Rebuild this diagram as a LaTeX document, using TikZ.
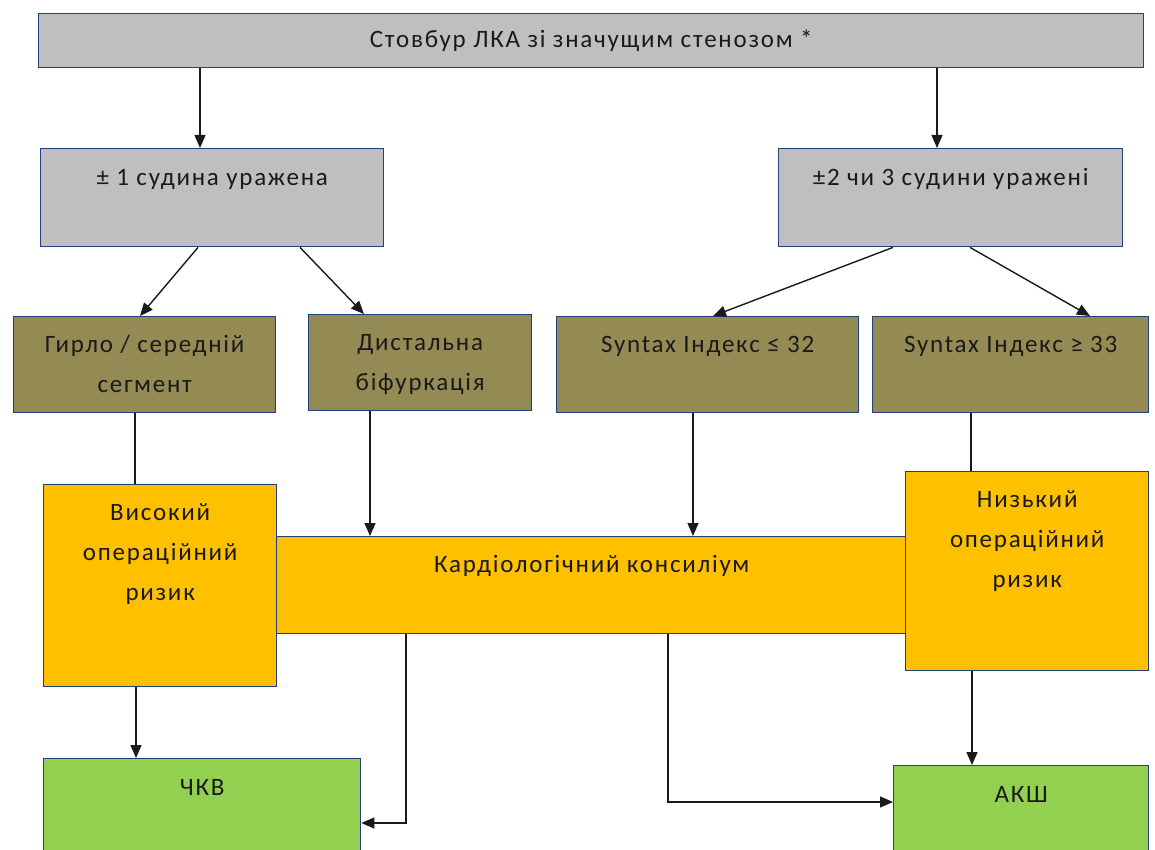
\documentclass[tikz,border=0pt]{standalone}
\usepackage{fontspec}
\setmainfont{Carlito}
\usetikzlibrary{arrows.meta}
\definecolor{boxgrey}{HTML}{BFBFBF}
\definecolor{olive}{HTML}{948A54}
\definecolor{amber}{HTML}{FFC000}
\definecolor{leaf}{HTML}{92D050}
\definecolor{edge}{HTML}{24407A}
\definecolor{ink}{HTML}{1A1A1A}
\tikzset{
  box/.style={draw=edge, line width=1.4pt, anchor=north west, align=center,
    inner xsep=4pt, inner ysep=0pt, text height=37pt, text=ink,
    font=\fontsize{25}{40}\selectfont\addfontfeatures{LetterSpace=7}},
  flow/.style={draw=ink, line width=1.4pt, -{Triangle[length=13pt,width=11pt]}}
}
\begin{document}
\begin{tikzpicture}[x=1pt, y=-1pt]
  \useasboundingbox (0,0) rectangle (1155,850);
  \draw
    (38,13) node[box, fill=boxgrey, minimum width=1105pt, text height=34pt, text depth=20pt] (top){Стовбур ЛКА зі значущим стенозом *}
    (40,148) node[box, fill=boxgrey, minimum width=343pt, text depth=61pt] (one){± 1 судина уражена}
    (778,148) node[box, fill=boxgrey, minimum width=344pt, text depth=61pt] (two){±2 чи 3 судини уражені}
    (13,316) node[box, fill=olive, minimum width=262pt, text height=76pt, text depth=20pt] (ostium){Гирло / середній\\сегмент}
    (308,314) node[box, fill=olive, minimum width=223pt, text height=76pt, text depth=20pt] (distal){Дистальна\\біфуркація}
    (556,316) node[box, fill=olive, minimum width=302pt, text height=36pt, text depth=60pt] (synlo){Syntax Індекс ≤ 32}
    (872,316) node[box, fill=olive, minimum width=276pt, text height=36pt, text depth=60pt] (synhi){Syntax Індекс ≥ 33}
    (276,536) node[box, fill=amber, minimum width=630pt, text height=36pt, text depth=61pt] (council){Кардіологічний консиліум}
    (43,484) node[box, fill=amber, minimum width=233pt, text height=116pt, text depth=86pt] (high){Високий\\операційний\\ризик}
    (905,471) node[box, fill=amber, minimum width=243pt, text height=116pt, text depth=83pt] (low){Низький\\операційний\\ризик}
    (43,758) node[box, fill=leaf, minimum width=317pt, text depth=80pt] (pci){ЧКВ}
    (893,765) node[box, fill=leaf, minimum width=255pt, text depth=80pt] (cabg){АКШ};
  \begin{scope}[flow]
    \draw ([xshift=160pt]one.north west |- top.south) to ([xshift=160pt]one.north west);
    \draw ([xshift=159pt]two.north west |- top.south) to ([xshift=159pt]two.north west);
    \draw ([xshift=158pt]one.south west) to ([xshift=127pt]ostium.north west);
    \draw ([xshift=260pt]one.south west) to ([xshift=56pt]distal.north west);
    \draw ([xshift=115pt]two.south west) to ([xshift=157pt]synlo.north west);
    \draw ([xshift=192pt]two.south west) to ([xshift=218pt]synhi.north west);
    \draw ([xshift=62pt]distal.south west) to ([xshift=62pt]distal.south west |- council.north);
    \draw ([xshift=137pt]synlo.south west) to ([xshift=137pt]synlo.south west |- council.north);
    \draw ([xshift=93pt]high.south west) to ([xshift=93pt]high.south west |- pci.north);
    \draw ([xshift=130pt]council.south west) |- ([yshift=-65pt]pci.north east);
    \draw ([xshift=392pt]council.south west) |- ([yshift=-37pt]cabg.north west);
    \draw ([xshift=67pt]low.south west) to ([xshift=67pt]low.south west |- cabg.north);
  \end{scope}
  \begin{scope}[flow, -]
    \draw ([xshift=122pt]ostium.south west) to ([xshift=122pt]ostium.south west |- high.north);
    \draw ([xshift=99pt]synhi.south west) to ([xshift=99pt]synhi.south west |- low.north);
  \end{scope}
\end{tikzpicture}
\end{document}
